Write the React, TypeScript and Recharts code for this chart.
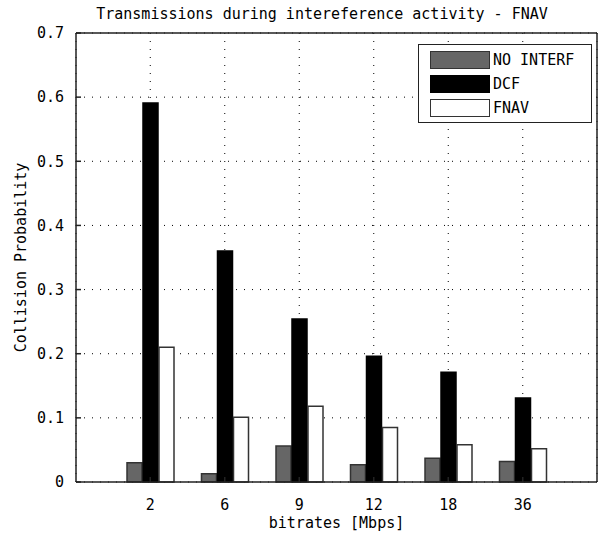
import React from "react";
import {
  BarChart,
  Bar,
  XAxis,
  YAxis,
  CartesianGrid,
  Label,
} from "recharts";

const bitrates = ["2", "6", "9", "12", "18", "36"];
const noInterf = [0.03, 0.013, 0.056, 0.027, 0.037, 0.032];
const dcf = [0.591, 0.36, 0.254, 0.196, 0.171, 0.131];
const fnav = [0.21, 0.101, 0.118, 0.085, 0.058, 0.052];
const yTicks = [0, 0.1, 0.2, 0.3, 0.4, 0.5, 0.6, 0.7];

const SERIES = [
  { key: "noInterf", name: "NO INTERF", fill: "#666666", stroke: "#333333" },
  { key: "dcf", name: "DCF", fill: "#000000", stroke: "#000000" },
  { key: "fnav", name: "FNAV", fill: "#ffffff", stroke: "#333333" },
];

const data = bitrates.map((b, i) => ({
  bitrate: b,
  noInterf: noInterf[i],
  dcf: dcf[i],
  fnav: fnav[i],
}));

const FONT = "'DejaVu Sans Mono', monospace";
const AXIS = "#222222";

const fmt = (v: number) => (v === 0 ? "0" : v.toFixed(1));

// legend drawn like the matlab box in the upper right corner
const LegendBox = () => (
  <div
    style={{
      position: "absolute",
      left: 418,
      top: 44,
      width: 174,
      height: 79,
      border: "1.5px solid " + AXIS,
      background: "#fff",
      boxSizing: "border-box",
      fontFamily: FONT,
      fontSize: 15,
    }}
  >
    {SERIES.map((s, i) => (
      <div
        key={s.key}
        style={{
          position: "absolute",
          left: 11,
          top: 6 + i * 24,
          display: "flex",
          alignItems: "center",
        }}
      >
        <div
          style={{
            width: 60,
            height: 18,
            background: s.fill,
            border: "1.5px solid " + s.stroke,
            boxSizing: "border-box",
          }}
        />
        <span style={{ marginLeft: 3 }}>{s.name}</span>
      </div>
    ))}
  </div>
);

export default function App() {
  return (
    <div
      style={{
        position: "absolute",
        left: 0,
        top: 0,
        width: 607,
        height: 533,
        background: "#fff",
      }}
    >
      <div
        style={{
          position: "absolute",
          left: 0,
          width: 644,
          top: 5,
          textAlign: "center",
          fontFamily: FONT,
          fontSize: 15,
          whiteSpace: "nowrap",
        }}
      >
        Transmissions during intereference activity - FNAV
      </div>
      <BarChart
        width={607}
        height={533}
        data={data}
        margin={{ top: 33, right: 10, bottom: 0, left: 0 }}
        barSize={15}
        barGap={1}
      >
        <CartesianGrid stroke="#000" strokeDasharray="1 7" />
        <XAxis
          dataKey="bitrate"
          height={51}
          padding={{ left: 37, right: 37 }}
          stroke={AXIS}
          strokeWidth={1.5}
          tickSize={-5}
          tickMargin={22}
          tick={{ fill: "#000", fontFamily: FONT, fontSize: 15 }}
        >
          <Label
            value="bitrates [Mbps]"
            position="insideBottom"
            offset={5}
            style={{ fill: "#000", fontFamily: FONT, fontSize: 15 }}
          />
        </XAxis>
        <XAxis
          xAxisId="top"
          dataKey="bitrate"
          orientation="top"
          mirror
          padding={{ left: 37, right: 37 }}
          stroke={AXIS}
          strokeWidth={1.5}
          tickSize={5}
          tick={false}
        />
        <YAxis
          width={76}
          domain={[0, 0.7]}
          ticks={yTicks}
          interval={0}
          tickFormatter={fmt}
          stroke={AXIS}
          strokeWidth={1.5}
          tickSize={-5}
          tickMargin={17}
          tick={{ fill: "#000", fontFamily: FONT, fontSize: 15 }}
        >
          <Label
            value="Collision Probability"
            angle={-90}
            position="insideLeft"
            offset={21}
            style={{
              fill: "#000",
              fontFamily: FONT,
              fontSize: 15,
              textAnchor: "middle",
            }}
          />
        </YAxis>
        <YAxis
          yAxisId="right"
          orientation="right"
          mirror
          domain={[0, 0.7]}
          ticks={yTicks}
          interval={0}
          stroke={AXIS}
          strokeWidth={1.5}
          tickSize={5}
          tick={false}
        />
        {SERIES.map((s) => (
          <Bar
            key={s.key}
            dataKey={s.key}
            name={s.name}
            fill={s.fill}
            stroke={s.stroke}
            strokeWidth={1.5}
            isAnimationActive={false}
          />
        ))}
      </BarChart>
      <LegendBox />
    </div>
  );
}
